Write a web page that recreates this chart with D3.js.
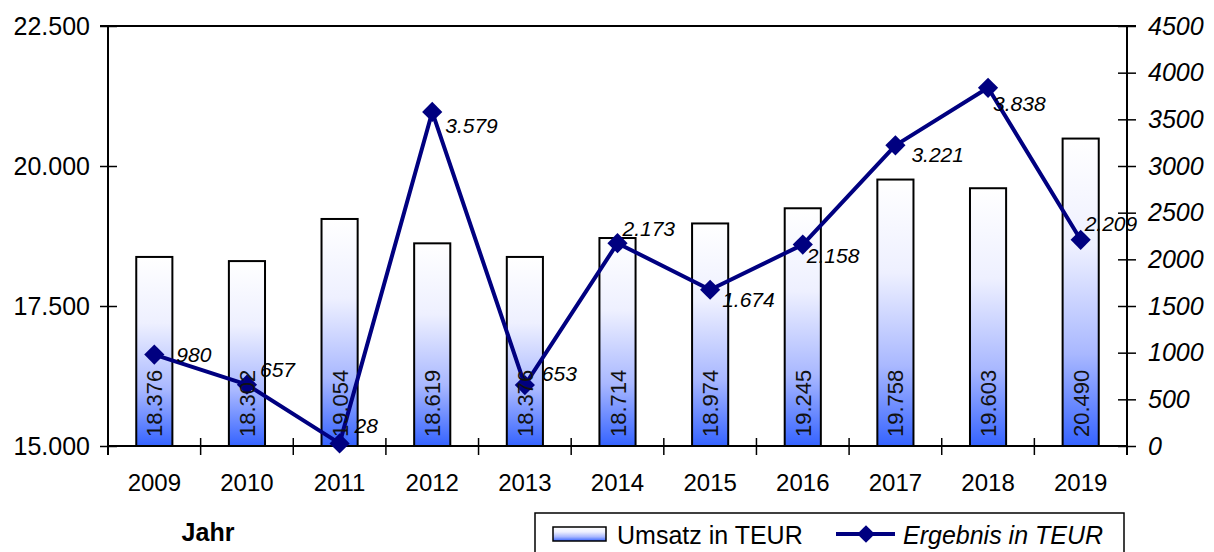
<!DOCTYPE html>
<html>
<head>
<meta charset="utf-8">
<script src="https://cdn.jsdelivr.net/npm/d3@7"></script>
<style>
  body { margin: 0; background: #fff; }
  svg { display: block; font-family: "Liberation Sans", Arial, sans-serif; }
</style>
</head>
<body>
<div id="chart"></div>
<script>
// data
var years = ["2009", "2010", "2011", "2012", "2013", "2014", "2015", "2016", "2017", "2018", "2019"];
var umsatz = [18376, 18302, 19054, 18619, 18376, 18714, 18974, 19245, 19758, 19603, 20490];
var ergebnis = [980, 657, 28, 3579, 653, 2173, 1674, 2158, 3221, 3838, 2209];
var leftTicks = [15000, 17500, 20000, 22500];
var rightTicks = [0, 500, 1000, 1500, 2000, 2500, 3000, 3500, 4000, 4500];

// hand placed label nudges (dx, dy) like in the original sheet
var labelNudge = [[22, 7], [13, -8], [15, -10], [13, 21], [17, -4], [5, -7],
                  [12, 17], [4, 18], [16, 17], [5, 23], [4, -9]];

var svgWidth = 1214, svgHeight = 552;
var margin = { top: 26, right: 87, bottom: 106, left: 108 };
var chartWidth = svgWidth - margin.left - margin.right;
var chartHeight = svgHeight - margin.top - margin.bottom;

var de = d3.formatLocale({ decimal: ",", thousands: ".", grouping: [3], currency: ["", " €"] });
var fmt = de.format(",.0f");

var svg = d3.select("#chart").append("svg")
  .attr("width", svgWidth)
  .attr("height", svgHeight);

var defs = svg.append("defs");
var grad = defs.append("linearGradient")
  .attr("id", "barGrad")
  .attr("x1", 0).attr("y1", 0).attr("x2", 0).attr("y2", 1);
grad.append("stop").attr("offset", "0%").attr("stop-color", "#ffffff");
grad.append("stop").attr("offset", "35%").attr("stop-color", "#eef0ff");
grad.append("stop").attr("offset", "70%").attr("stop-color", "#a9b8ff");
grad.append("stop").attr("offset", "100%").attr("stop-color", "#3563ff");

var chartGroup = svg.append("g")
  .attr("transform", `translate(${margin.left}, ${margin.top})`);

var xScale = d3.scaleBand().domain(years).range([0, chartWidth]).padding(0);
var yLeft = d3.scaleLinear().domain([15000, 22500]).range([chartHeight, 0]);
var yRight = d3.scaleLinear().domain([0, 4500]).range([chartHeight, 0]);
var barWidth = xScale.bandwidth() * 0.39;

// top border
chartGroup.append("line")
  .attr("x1", -8).attr("x2", chartWidth + 9)
  .attr("y1", 0).attr("y2", 0)
  .attr("stroke", "#000").attr("stroke-width", 2);

// left axis
var leftAxis = d3.axisLeft(yLeft).tickValues(leftTicks).tickFormat(fmt).tickSize(8).tickSizeOuter(0).tickPadding(10);
var gl = chartGroup.append("g").call(leftAxis);
gl.select(".domain").remove();
gl.selectAll(".tick line").attr("x1", 9).attr("stroke-width", 1.5);
gl.selectAll(".tick text").attr("font-size", "25px").attr("fill", "#000");
chartGroup.append("line")
  .attr("x1", 0).attr("x2", 0).attr("y1", 0).attr("y2", chartHeight + 9)
  .attr("stroke", "#000").attr("stroke-width", 2);

// right axis
var rightAxis = d3.axisRight(yRight).tickValues(rightTicks).tickFormat(d3.format("d")).tickSize(9).tickSizeOuter(0).tickPadding(12);
var gr = chartGroup.append("g").attr("transform", `translate(${chartWidth}, 0)`).call(rightAxis);
gr.select(".domain").remove();
gr.selectAll(".tick line").attr("x1", -9).attr("stroke-width", 1.5);
gr.selectAll(".tick text").attr("font-size", "25px").attr("font-style", "italic").attr("fill", "#000");
chartGroup.append("line")
  .attr("x1", chartWidth).attr("x2", chartWidth).attr("y1", 0).attr("y2", chartHeight + 9)
  .attr("stroke", "#000").attr("stroke-width", 2);

// bottom axis
var bottomAxis = d3.axisBottom(xScale).tickSize(0).tickPadding(28);
var gb = chartGroup.append("g").attr("transform", `translate(0, ${chartHeight})`).call(bottomAxis);
gb.select(".domain").remove();
gb.selectAll(".tick text").attr("font-size", "24px").attr("fill", "#000");
chartGroup.append("line")
  .attr("x1", 0).attr("x2", chartWidth).attr("y1", chartHeight).attr("y2", chartHeight)
  .attr("stroke", "#000").attr("stroke-width", 2);
chartGroup.selectAll(".catTick")
  .data(years.slice(1))
  .enter()
  .append("line")
  .attr("class", "catTick")
  .attr("x1", d => xScale(d)).attr("x2", d => xScale(d))
  .attr("y1", chartHeight - 8).attr("y2", chartHeight + 9)
  .attr("stroke", "#000").attr("stroke-width", 1.5);

// bars
chartGroup.selectAll(".bar")
  .data(umsatz)
  .enter()
  .append("rect")
  .attr("class", "bar")
  .attr("x", (d, i) => xScale(years[i]) + (xScale.bandwidth() - barWidth) / 2)
  .attr("y", d => yLeft(d))
  .attr("width", barWidth)
  .attr("height", d => chartHeight - yLeft(d))
  .attr("fill", "url(#barGrad)")
  .attr("stroke", "#000")
  .attr("stroke-width", 2);

// ergebnis line
var line = d3.line()
  .x((d, i) => xScale(years[i]) + xScale.bandwidth() / 2)
  .y(d => yRight(d));
chartGroup.append("path")
  .datum(ergebnis)
  .attr("d", line)
  .attr("fill", "none")
  .attr("stroke", "#000080")
  .attr("stroke-width", 4)
  .attr("stroke-linejoin", "round");

chartGroup.selectAll(".marker")
  .data(ergebnis)
  .enter()
  .append("path")
  .attr("class", "marker")
  .attr("d", d3.symbol().type(d3.symbolDiamond2).size(260))
  .attr("transform", (d, i) => `translate(${xScale(years[i]) + xScale.bandwidth() / 2}, ${yRight(d)})`)
  .attr("fill", "#000080");

// bar value labels (sit on top of the line, as in the original)
chartGroup.selectAll(".barLabel")
  .data(umsatz)
  .enter()
  .append("text")
  .attr("class", "barLabel")
  .attr("transform", (d, i) => `translate(${xScale(years[i]) + xScale.bandwidth() / 2 + 8}, ${chartHeight - 9}) rotate(-90)`)
  .attr("font-size", "22px")
  .attr("fill", "#111")
  .text(d => fmt(d));

// ergebnis labels
chartGroup.selectAll(".lineLabel")
  .data(ergebnis)
  .enter()
  .append("text")
  .attr("class", "lineLabel")
  .attr("x", (d, i) => xScale(years[i]) + xScale.bandwidth() / 2 + labelNudge[i][0])
  .attr("y", (d, i) => yRight(d) + labelNudge[i][1])
  .attr("font-size", "21px")
  .attr("font-style", "italic")
  .attr("fill", "#000")
  .text(d => fmt(d));

// x axis title
svg.append("text")
  .attr("x", 208).attr("y", 541)
  .attr("text-anchor", "middle")
  .attr("font-size", "25px")
  .attr("font-weight", "bold")
  .text("Jahr");

// legend
var legend = svg.append("g");
legend.append("rect")
  .attr("x", 535).attr("y", 513)
  .attr("width", 589).attr("height", 60)
  .attr("fill", "#fff").attr("stroke", "#000").attr("stroke-width", 1.5);
legend.append("rect")
  .attr("x", 553).attr("y", 527)
  .attr("width", 53).attr("height", 14)
  .attr("fill", "url(#barGrad)").attr("stroke", "#000").attr("stroke-width", 1.5);
legend.append("text")
  .attr("x", 617).attr("y", 544)
  .attr("font-size", "25px")
  .text("Umsatz in TEUR");
legend.append("line")
  .attr("x1", 836).attr("x2", 895).attr("y1", 534).attr("y2", 534)
  .attr("stroke", "#000080").attr("stroke-width", 4);
legend.append("path")
  .attr("d", d3.symbol().type(d3.symbolDiamond2).size(200))
  .attr("transform", "translate(866, 534)")
  .attr("fill", "#000080");
legend.append("text")
  .attr("x", 903).attr("y", 544)
  .attr("font-size", "25px")
  .attr("font-style", "italic")
  .text("Ergebnis in TEUR");
</script>
</body>
</html>
